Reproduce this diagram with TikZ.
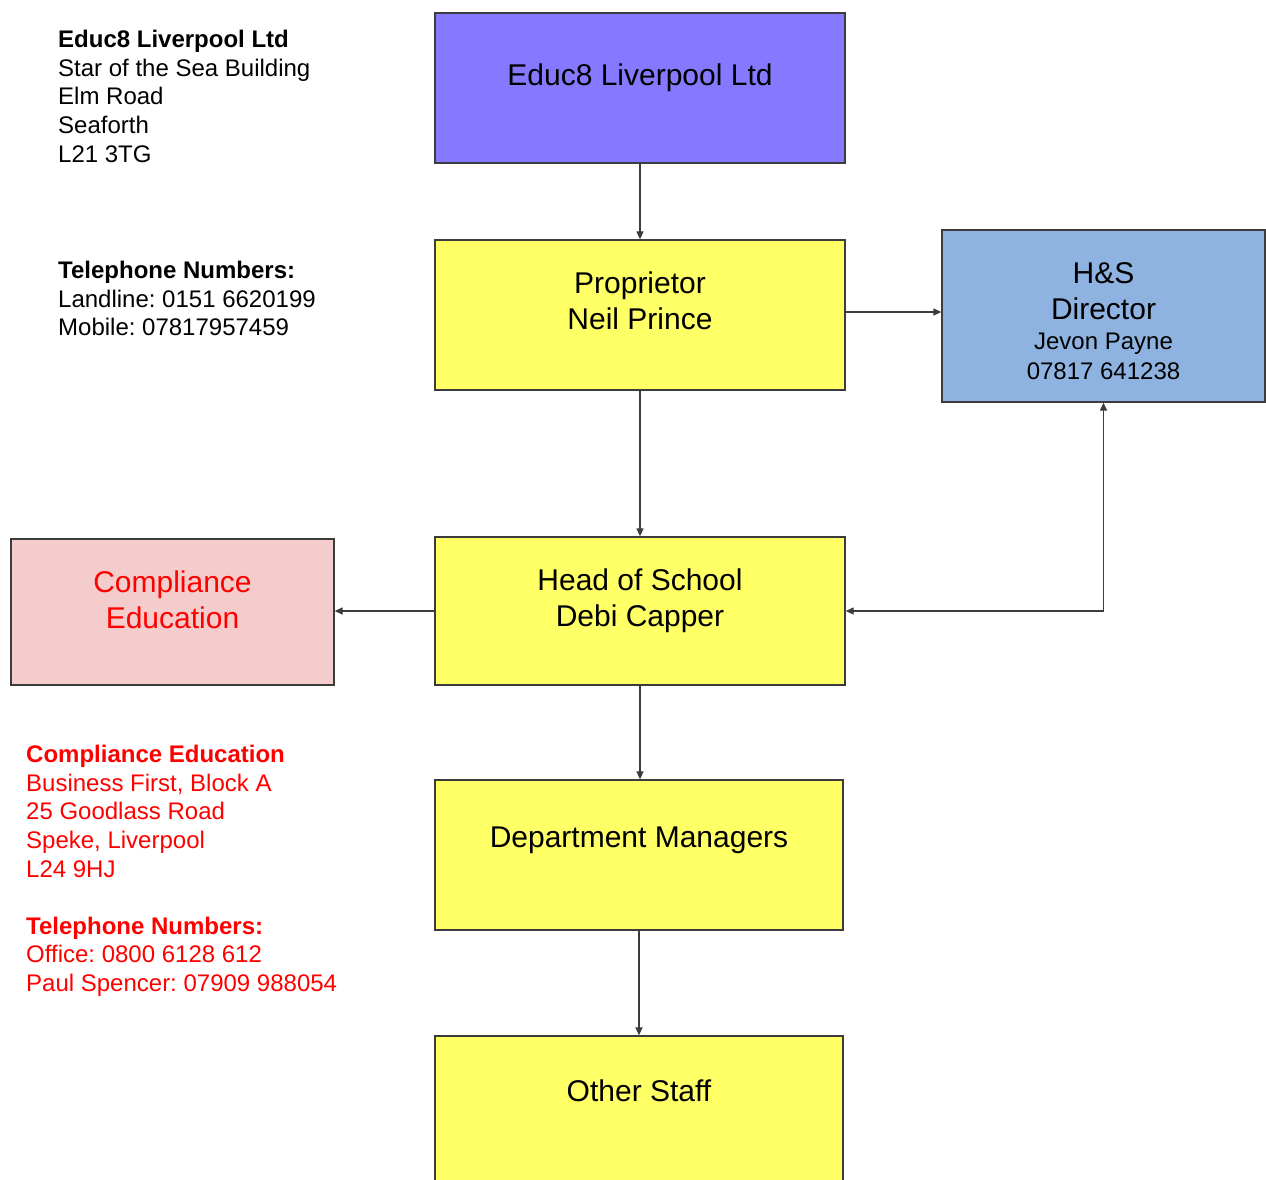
\documentclass[tikz,border=0pt]{standalone}
\usepackage{fontspec}
\setmainfont{Liberation Sans}
\usetikzlibrary{arrows.meta}
\frenchspacing
\definecolor{edgegrey}{RGB}{60,60,60}
\definecolor{purplebox}{RGB}{134,120,255}
\definecolor{yellowbox}{RGB}{255,255,102}
\definecolor{bluebox}{RGB}{142,179,224}
\definecolor{pinkbox}{RGB}{244,204,204}
\definecolor{redtext}{RGB}{255,0,0}
\tikzset{
  box/.style={draw=edgegrey, line width=1.3pt, inner sep=0pt, rectangle},
  bigtext/.style={anchor=north, inner sep=0pt, align=center, font=\fontsize{30}{36}\selectfont},
  smalltext/.style={anchor=north, inner sep=0pt, align=center, font=\fontsize{24}{30}\selectfont},
  sidetext/.style={anchor=north west, inner sep=0pt, align=left, font=\fontsize{24}{28.6}\selectfont},
  arr/.style={draw=edgegrey, line width=1.3pt, -{Triangle[length=8pt,width=7pt]}},
  darr/.style={draw=edgegrey, line width=1.3pt, {Triangle[length=8pt,width=7pt]}-{Triangle[length=8pt,width=7pt]}},
}
\newcommand{\bstrut}{\rule{0pt}{25pt}}
\newcommand{\sstrut}{\rule{0pt}{20pt}}
\begin{document}
\frenchspacing
\begin{tikzpicture}[x=1pt,y=-1pt]
\clip (0,0) rectangle (1266,1179);
\fill[white] (0,0) rectangle (1266,1179);

% boxes
\node[box, fill=purplebox, minimum width=410pt, minimum height=150pt] (educ) at (640,88) {};
\node[box, fill=yellowbox, minimum width=410pt, minimum height=150pt] (prop) at (640,315) {};
\node[box, fill=bluebox, minimum width=323pt, minimum height=172pt] (hs) at (1103.5,316) {};
\node[box, fill=yellowbox, minimum width=410pt, minimum height=148pt] (head) at (640,611) {};
\node[box, fill=pinkbox, minimum width=323pt, minimum height=146pt] (comp) at (172.5,612) {};
\node[box, fill=yellowbox, minimum width=408pt, minimum height=150pt] (dept) at (639,855) {};
\node[box, fill=yellowbox, minimum width=408pt, minimum height=148pt] (other) at (639,1110) {};

% box texts
\node[bigtext] (educt) at (640,60.7) {\bstrut Educ8 Liverpool Ltd};
\node[bigtext] (propt) at (640,268.7) {\bstrut Proprietor\\Neil Prince};
\node[bigtext] (hst) at (1103.5,258.7) {\bstrut H\&S\\Director};
\node[smalltext] (hss) at (1103.5,329.6) {\sstrut Jevon Payne\\07817 641238};
\node[bigtext] (headt) at (640,565.7) {\bstrut Head of School\\Debi Capper};
\node[bigtext, text=redtext] (compt) at (172.5,567.7) {\bstrut Compliance\\Education};
\node[bigtext] (deptt) at (639,822.7) {\bstrut Department Managers};
\node[bigtext] (othert) at (639,1076.7) {\bstrut Other Staff};

% side texts
\node[sidetext] (addr1) at (58,27.5) {\sstrut\textbf{Educ8 Liverpool Ltd}\\Star of the Sea Building\\Elm Road\\Seaforth\\L21 3TG};
\node[sidetext] (tel1) at (58,258.5) {\sstrut\textbf{Telephone Numbers:}\\Landline: 0151 6620199\\Mobile: 07817957459};
\node[sidetext, text=redtext] (addr2) at (26,742.5) {\sstrut\textbf{Compliance Education}\\Business First, Block A\\25 Goodlass Road\\Speke, Liverpool\\L24 9HJ\\[28.6pt]\textbf{Telephone Numbers:}\\Office: 0800 6128 612\\Paul Spencer: 07909 988054};

% connectors
\draw[arr] (educ.south) -- (prop.north);
\draw[arr] ([yshift=3pt]prop.east) -- ([yshift=3pt]prop.east -| hs.west);
\draw[arr] (prop.south) -- (head.north);
\draw[arr] (head.west) -- (head.west -| comp.east);
\draw[darr] (hs.south) -- (hs.south |- head.east) -- (head.east);
\draw[arr] (head.south) -- (head.south |- dept.north);
\draw[arr] (dept.south) -- (other.north);
\end{tikzpicture}
\end{document}
